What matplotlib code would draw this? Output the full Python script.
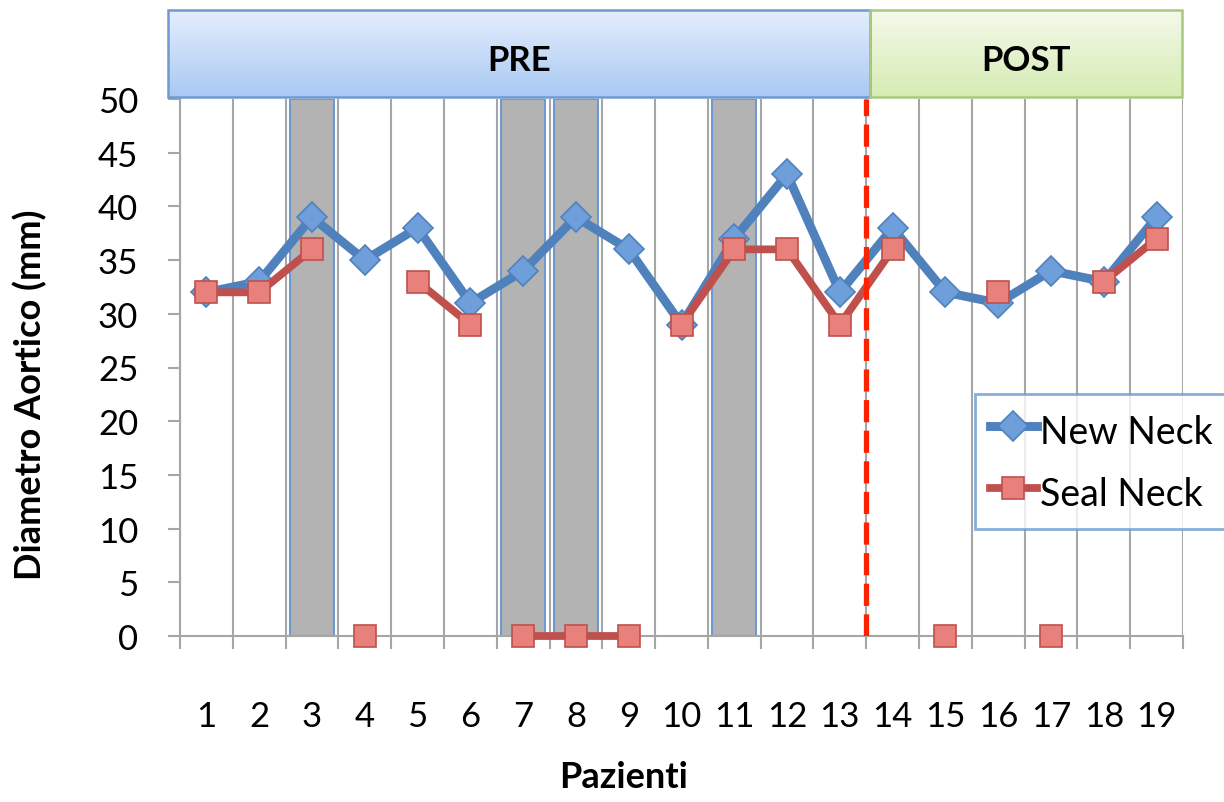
import numpy as np
import matplotlib
matplotlib.use("Agg")
import matplotlib.pyplot as plt
from matplotlib.patches import Rectangle
from matplotlib.lines import Line2D

# ---- data ----
patients = list(range(1, 20))
new_neck = [32, 33, 39, 35, 38, 31, 34, 39, 36, 29, 37, 43, 32, 38, 32, 31, 34, 33, 39]
seal_neck = [32, 32, 36, 0, 33, 29, 0, 0, 0, 29, 36, 36, 29, 36, 0, 32, 0, 33, 37]
# consecutive patients joined by the Seal Neck line
seal_runs = [[1, 2, 3], [4], [5, 6], [7, 8, 9], [10, 11, 12, 13, 14], [15], [16], [17], [18, 19]]
excluded = [3, 7, 8, 11]
excluded_height = [50, 50, 50, 50]
phases = ["PRE", "POST"]
phase_last = [13, 19]
yticks = list(range(0, 55, 5))

W, H = 1224, 803
plt.rcParams['font.family'] = ['Lato', 'DejaVu Sans']

BLUE = '#4f81bd'
BLUE_FILL = '#6f9fdb'
RED = '#c0504d'
RED_FILL = '#e8807c'
GRID = '#a6a6a6'

blue_style = dict(color=BLUE, lw=6.4, marker='D', ms=15, mfc=BLUE_FILL, mec=BLUE, mew=1.2)
red_style = dict(color=RED, lw=5.6, marker='s', ms=16, mfc=RED_FILL, mec=RED, mew=1.2)

fig = plt.figure(figsize=(W / 100, H / 100), dpi=100)
ax = fig.add_axes([180 / W, 1 - 637 / H, (1183 - 180) / W, (637 - 100) / H])
ax.set_xlim(0.5, 19.5)
ax.set_ylim(0, 50)

# gray columns for excluded patients
ax.bar(excluded, excluded_height, width=0.83, color='#b3b3b3',
       edgecolor='#6d9bd1', linewidth=1.5, zorder=1)

# New Neck
ax.plot(patients, new_neck, solid_joinstyle='miter', zorder=3, clip_on=False, **blue_style)

# Seal Neck, drawn run by run
for run in seal_runs:
    ys = [seal_neck[p - 1] for p in run]
    ax.plot(run, ys, zorder=3.5, clip_on=False, **red_style)

# separation between PRE and POST
ax.axvline(phase_last[0] + 0.5, color='#ff2200', lw=3.8, dashes=(4.2, 1.6), zorder=5)

# axes styling
ax.set_xticks(np.arange(0.5, 20, 1))
ax.set_xticks(patients, minor=True)
ax.set_xticklabels([])
ax.set_xticklabels([str(p) for p in patients], minor=True)
ax.tick_params(axis='x', which='major', length=9, width=1.5, color=GRID, direction='out')
ax.tick_params(axis='x', which='minor', length=0, pad=46, labelsize=25)
ax.set_yticks(yticks)
ax.tick_params(axis='y', length=9, width=1.5, color=GRID, direction='out', pad=21, labelsize=25)
ax.xaxis.grid(True, which='major', color=GRID, lw=1.5, zorder=0)
ax.set_axisbelow(True)
for s in ['top', 'right']:
    ax.spines[s].set_visible(False)
for s in ['left', 'bottom']:
    ax.spines[s].set_color(GRID)
    ax.spines[s].set_linewidth(1.5)

fig.text(30 / W, 1 - 395 / H, 'Diametro Aortico (mm)', rotation=90, ha='center', va='center',
         fontsize=26, fontweight='bold')
fig.text(624 / W, 1 - 778 / H, 'Pazienti', ha='center', va='center',
         fontsize=26, fontweight='bold')

# phase header
hdr = fig.add_axes([180 / W, 1 - 98 / H, (1183 - 180) / W, 87 / H])
hdr.axis('off')
step = 1.0 / 52.8
starts = [0.5 - 12 * step, phase_last[0] + 0.5 + 4 * step]
ends = [phase_last[0] + 0.5 + 4 * step, phase_last[1] + 0.5 - 1 * step]
grads = [('#a9c9f4', '#e4eefc'), ('#d6ecb3', '#f4f9ea')]
edges = ['#6f9ad0', '#a9c97e']
for name, x0, x1, (cb, ct), ec in zip(phases, starts, ends, grads, edges):
    rect = Rectangle((x0, 0), x1 - x0, 1, facecolor='none', edgecolor=ec, lw=1.8,
                     clip_on=False, zorder=3)
    hdr.add_patch(rect)
    grad = np.linspace(0, 1, 64).reshape(-1, 1)
    cmap = matplotlib.colors.LinearSegmentedColormap.from_list('g', [cb, ct])
    im = hdr.imshow(grad, extent=(x0, x1, 0, 1), origin='lower', cmap=cmap,
                    aspect='auto', zorder=2)
    im.set_clip_path(rect)
    hdr.text((x0 + x1) / 2, 0.42, name, ha='center', va='center', fontsize=25,
             fontweight='bold', zorder=4)
hdr.set_xlim(0.5, 19.5)
hdr.set_ylim(0, 1)

# legend
handles = [Line2D([], [], **blue_style), Line2D([], [], **red_style)]
leg = fig.legend(handles, ['New Neck', 'Seal Neck'], loc='upper left',
                 bbox_to_anchor=(975 / W, 1 - 395 / H), fontsize=27, frameon=True,
                 fancybox=False, handlelength=1.25, handleheight=1.4, handletextpad=0.08,
                 borderpad=0.4, labelspacing=0.5, borderaxespad=0)
leg.get_frame().set_edgecolor('#6a9bd0')
leg.get_frame().set_linewidth(2)

fig.savefig('out.png', dpi=100)
